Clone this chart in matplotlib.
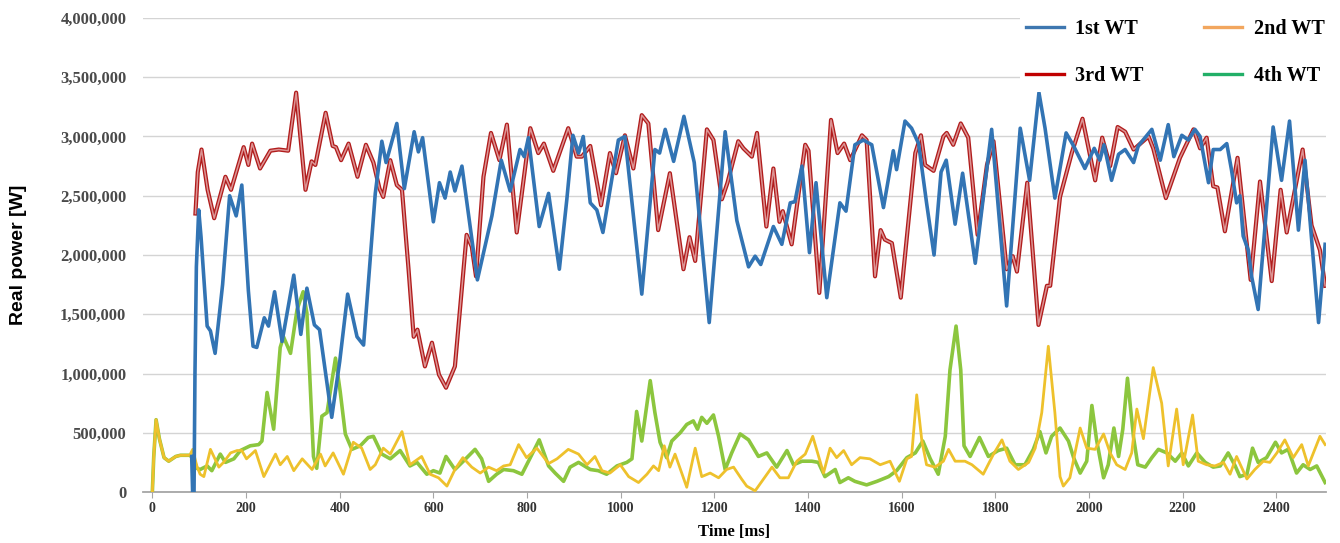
import numpy as np
import matplotlib
matplotlib.use("Agg")
import matplotlib.pyplot as plt
from matplotlib.lines import Line2D
from matplotlib.ticker import FuncFormatter

# values, time in ms and power in MW

# 1st WT
t1 = [84, 86, 89, 91, 94, 99, 104, 117, 124, 134, 150, 165, 179, 191, 205, 215, 223, 239, 248, 261,
      277, 302, 317, 330, 346, 357, 383, 400, 417, 437, 451, 476, 490, 499, 522, 538, 559, 568, 577, 600,
      613, 625, 636, 646, 661, 694, 725, 745, 764, 785, 794, 803, 826, 846, 869, 885, 898, 910, 920, 935,
      949, 962, 995, 1009, 1045, 1073, 1083, 1095, 1113, 1135, 1157, 1189, 1223, 1248, 1273, 1287, 1299,
      1326, 1344, 1362, 1372, 1387, 1403, 1417, 1440, 1468, 1481, 1500, 1518, 1536, 1561, 1582, 1589,
      1607, 1621, 1636, 1653, 1669, 1684, 1695, 1714, 1730, 1757, 1792, 1824, 1853, 1873, 1893, 1906,
      1927, 1951, 1967, 1991, 2011, 2023, 2032, 2048, 2063, 2077, 2095, 2105, 2134, 2152, 2169, 2181,
      2198, 2212, 2226, 2237, 2255, 2265, 2280, 2294, 2304, 2315, 2322, 2329, 2340, 2347, 2361, 2393,
      2411, 2428, 2447, 2461, 2490, 2504]
p1 = [0.30, 0.0, 0.0, 1.0, 1.9, 2.38, 2.15, 1.40, 1.36, 1.17, 1.75, 2.50, 2.33, 2.59, 1.70, 1.23, 1.22, 1.47, 1.40, 1.69,
      1.27, 1.83, 1.33, 1.72, 1.41, 1.37, 0.63, 1.10, 1.67, 1.31, 1.24, 2.52, 2.96, 2.78, 3.11, 2.56, 3.04, 2.87, 2.99, 2.28,
      2.61, 2.48, 2.70, 2.54, 2.75, 1.79, 2.33, 2.80, 2.54, 2.89, 2.83, 2.99, 2.24, 2.52, 1.88, 2.47, 3.01, 2.86, 3.00, 2.44,
      2.38, 2.19, 2.97, 3.00, 1.67, 2.89, 2.86, 3.06, 2.79, 3.17, 2.78, 1.43, 3.04, 2.29, 1.90, 1.99, 1.92,
      2.24, 2.09, 2.44, 2.45, 2.75, 2.02, 2.61, 1.64, 2.44, 2.37, 2.93, 2.97, 2.93, 2.40, 2.88, 2.72,
      3.13, 3.07, 2.94, 2.44, 2.00, 2.70, 2.80, 2.26, 2.69, 1.93, 3.06, 1.57, 3.07, 2.63, 3.37, 3.07,
      2.48, 3.03, 2.92, 2.73, 2.90, 2.80, 2.93, 2.63, 2.85, 2.89, 2.78, 2.92, 3.06, 2.80, 3.10, 2.83,
      3.01, 2.97, 3.06, 3.00, 2.61, 2.89, 2.89, 2.94, 2.72, 2.44, 2.50, 2.16, 2.04, 1.82, 1.54, 3.08,
      2.63, 3.13, 2.21, 2.80, 1.43, 2.09]

# 2nd WT
t2 = [0, 3, 8, 15, 25, 35, 50, 60, 80, 86, 95, 102, 110, 124, 142, 152, 167, 181, 191, 201, 220, 238,
      263, 273, 288, 302, 320, 341, 359, 369, 386, 408, 429, 447, 465, 476, 493, 508, 533, 550, 575, 593,
      611, 629, 646, 663, 682, 700, 718, 735, 750, 764, 782, 799, 821, 846, 864, 888, 910, 928, 945, 960,
      977, 999, 1017, 1038, 1056, 1070, 1081, 1093, 1105, 1116, 1141, 1159, 1173, 1191, 1209, 1226, 1241,
      1258, 1269, 1287, 1305, 1323, 1340, 1358, 1376, 1394, 1410, 1433, 1447, 1461, 1476, 1493, 1511,
      1532, 1554, 1575, 1595, 1611, 1621, 1632, 1643, 1653, 1671, 1689, 1700, 1714, 1735, 1750, 1774,
      1796, 1814, 1831, 1849, 1871, 1885, 1899, 1913, 1927, 1938, 1945, 1959, 1981, 1995, 2013, 2031,
      2045, 2059, 2077, 2091, 2102, 2116, 2137, 2155, 2169, 2187, 2201, 2221, 2233, 2251, 2269, 2287,
      2301, 2315, 2337, 2354, 2372, 2386, 2401, 2418, 2436, 2454, 2468, 2493, 2504]
p2 = [0.0, 0.30, 0.61, 0.45, 0.29, 0.26, 0.30, 0.31, 0.31, 0.36, 0.22, 0.15, 0.13, 0.36, 0.21, 0.25, 0.33, 0.35, 0.35, 0.28, 0.35, 0.13,
      0.32, 0.23, 0.30, 0.18, 0.28, 0.19, 0.32, 0.22, 0.33, 0.15, 0.42, 0.37, 0.19, 0.23, 0.37, 0.32, 0.51, 0.23, 0.30, 0.15,
      0.12, 0.05, 0.19, 0.29, 0.21, 0.16, 0.21, 0.18, 0.22, 0.23, 0.40, 0.29, 0.37, 0.24, 0.28, 0.36, 0.32, 0.23, 0.30, 0.18,
      0.16, 0.23, 0.13, 0.08, 0.15, 0.22, 0.18, 0.39, 0.21, 0.32, 0.04, 0.37, 0.13, 0.16, 0.12, 0.19, 0.21,
      0.11, 0.05, 0.01, 0.11, 0.21, 0.12, 0.12, 0.26, 0.32, 0.47, 0.16, 0.37, 0.29, 0.35, 0.23, 0.29,
      0.28, 0.23, 0.26, 0.09, 0.28, 0.30, 0.82, 0.43, 0.23, 0.21, 0.26, 0.36, 0.26, 0.26, 0.23, 0.15,
      0.32, 0.44, 0.26, 0.19, 0.25, 0.37, 0.67, 1.23, 0.67, 0.13, 0.05, 0.12, 0.54, 0.37, 0.36, 0.49,
      0.33, 0.23, 0.19, 0.33, 0.70, 0.45, 1.05, 0.75, 0.22, 0.70, 0.23, 0.65, 0.26, 0.23, 0.22, 0.25,
      0.15, 0.30, 0.11, 0.19, 0.26, 0.25, 0.33, 0.44, 0.29, 0.40, 0.22, 0.47, 0.40]

# 3rd WT
t3 = [92, 97, 105, 118, 132, 156, 168, 195, 205, 213, 230, 252, 270, 290, 307, 327, 340, 348, 370, 385,
      392, 403, 419, 438, 456, 472, 485, 493, 508, 522, 533, 547, 558, 566, 582, 597, 612, 627, 646, 671,
      682, 691, 707, 723, 741, 757, 778, 807, 824, 836, 856, 888, 906, 917, 935, 958, 977, 990, 1009,
      1027, 1045, 1059, 1080, 1105, 1134, 1147, 1159, 1184, 1198, 1216, 1228, 1251, 1262, 1280, 1291,
      1311, 1326, 1339, 1346, 1365, 1394, 1401, 1424, 1449, 1463, 1477, 1490, 1515, 1525, 1543, 1555,
      1564, 1579, 1598, 1629, 1641, 1650, 1668, 1689, 1696, 1710, 1726, 1742, 1762, 1782, 1796, 1824,
      1837, 1846, 1868, 1892, 1910, 1917, 1938, 1963, 1986, 2013, 2028, 2045, 2061, 2077, 2095, 2127,
      2137, 2164, 2194, 2223, 2237, 2251, 2265, 2274, 2290, 2317, 2345, 2365, 2390, 2409, 2422, 2456,
      2475, 2493, 2504]
p3 = [2.35, 2.70, 2.89, 2.55, 2.31, 2.66, 2.55, 2.91, 2.76, 2.94, 2.73, 2.88, 2.89, 2.88, 3.37, 2.55, 2.79, 2.76, 3.20, 2.92,
      2.91, 2.80, 2.94, 2.66, 2.93, 2.78, 2.56, 2.49, 2.80, 2.59, 2.55, 1.88, 1.31, 1.37, 1.06, 1.26, 0.99, 0.88, 1.06, 2.17,
      2.07, 1.82, 2.66, 3.03, 2.80, 3.10, 2.19, 3.07, 2.86, 2.94, 2.71, 3.07, 2.83, 2.83, 2.92, 2.42, 2.86, 2.69, 3.01,
      2.73, 3.18, 3.11, 2.21, 2.69, 1.88, 2.15, 1.95, 3.06, 2.97, 2.47, 2.61, 2.96, 2.90, 2.83, 3.03,
      2.24, 2.73, 2.28, 2.37, 2.09, 2.93, 2.88, 1.68, 3.14, 2.86, 2.94, 2.80, 3.01, 2.97, 1.82, 2.21,
      2.13, 2.10, 1.64, 2.86, 3.01, 2.76, 2.71, 3.00, 3.03, 2.93, 3.11, 2.99, 2.17, 2.76, 2.96, 1.88,
      1.99, 1.86, 2.61, 1.41, 1.74, 1.74, 2.49, 2.86, 3.15, 2.63, 2.99, 2.75, 3.08, 3.04, 2.89, 3.00,
      2.90, 2.48, 2.82, 3.06, 2.90, 2.99, 2.58, 2.57, 2.20, 2.82, 1.79, 2.62, 1.78, 2.55, 2.19, 2.89,
      2.25, 2.04, 1.74]

# 4th WT
t4 = [0, 3, 8, 15, 25, 35, 50, 60, 80, 88, 95, 102, 117, 127, 145, 156, 174, 188, 209, 227, 234, 245,
      259, 273, 280, 295, 309, 322, 330, 344, 351, 362, 373, 391, 401, 412, 426, 444, 461, 472, 490, 508,
      529, 550, 565, 586, 600, 614, 627, 646, 664, 689, 703, 718, 735, 750, 771, 789, 807, 826, 846, 860,
      878, 892, 910, 935, 952, 970, 992, 1013, 1024, 1034, 1045, 1063, 1073, 1084, 1098, 1109, 1127,
      1141, 1155, 1164, 1173, 1184, 1198, 1209, 1223, 1237, 1255, 1273, 1294, 1312, 1333, 1355, 1369,
      1387, 1408, 1422, 1436, 1458, 1468, 1486, 1500, 1525, 1547, 1572, 1589, 1611, 1629, 1645, 1661,
      1678, 1693, 1703, 1716, 1726, 1733, 1746, 1766, 1785, 1806, 1824, 1842, 1863, 1881, 1895, 1908,
      1920, 1938, 1956, 1967, 1981, 1995, 2006, 2016, 2031, 2041, 2053, 2063, 2072, 2082, 2095, 2104,
      2120, 2134, 2148, 2166, 2184, 2198, 2212, 2230, 2248, 2265, 2280, 2297, 2312, 2322, 2337, 2349,
      2361, 2379, 2398, 2411, 2425, 2443, 2457, 2472, 2486, 2504]
p4 = [0.0, 0.30, 0.61, 0.45, 0.29, 0.26, 0.30, 0.31, 0.31, 0.28, 0.20, 0.19, 0.22, 0.18, 0.32, 0.25, 0.28, 0.35, 0.39, 0.40, 0.43, 0.84,
      0.53, 1.22, 1.31, 1.17, 1.54, 1.69, 1.51, 0.30, 0.20, 0.64, 0.67, 1.13, 0.85, 0.49, 0.36, 0.39, 0.46, 0.47, 0.32, 0.28,
      0.35, 0.22, 0.25, 0.15, 0.18, 0.16, 0.30, 0.19, 0.26, 0.36, 0.28, 0.09, 0.15, 0.19, 0.18, 0.15, 0.29, 0.44, 0.22, 0.16,
      0.09, 0.21, 0.25, 0.19, 0.18, 0.15, 0.22, 0.25, 0.28, 0.68, 0.43, 0.94, 0.67, 0.42, 0.29, 0.43, 0.50,
      0.57, 0.60, 0.53, 0.63, 0.58, 0.65, 0.47, 0.19, 0.33, 0.49, 0.44, 0.30, 0.33, 0.21, 0.35, 0.23,
      0.26, 0.26, 0.25, 0.13, 0.19, 0.08, 0.12, 0.09, 0.06, 0.09, 0.13, 0.18, 0.29, 0.33, 0.43, 0.28,
      0.15, 0.47, 1.03, 1.40, 1.03, 0.39, 0.30, 0.46, 0.30, 0.35, 0.37, 0.23, 0.23, 0.36, 0.51, 0.33,
      0.47, 0.54, 0.43, 0.29, 0.16, 0.26, 0.73, 0.44, 0.12, 0.23, 0.54, 0.30, 0.53, 0.96, 0.46, 0.23,
      0.21, 0.29, 0.36, 0.33, 0.26, 0.33, 0.22, 0.33, 0.25, 0.21, 0.22, 0.33, 0.22, 0.13, 0.15, 0.37,
      0.25, 0.29, 0.42, 0.33, 0.36, 0.16, 0.23, 0.19, 0.22, 0.08]

labels = ["1st WT", "2nd WT", "3rd WT", "4th WT"]
xticks = list(range(0, 2401, 200))
yticks = list(range(0, 4000001, 500000))

# colours: the legend keys differ from the drawn curves in the original
blue = "#3274B4"
yellow = "#EEC12C"
green = "#8CC63E"
red_dark = "#B11C1C"
red_light = "#DC9494"
legend_colors = ["#3E77B0", "#F2A65E", "#C00000", "#22AF67"]

serif = "Liberation Serif"

fig = plt.figure(figsize=(13.4, 5.43), dpi=100)
ax = fig.add_axes([0.1067, 0.0939, 0.8829, 0.873])

ax.plot(t4, np.array(p4) * 1e6, color=green, lw=2.6, solid_joinstyle="round", zorder=2)
ax.plot(t2, np.array(p2) * 1e6, color=yellow, lw=2.0, solid_joinstyle="round", zorder=3)
ax.plot(t3, np.array(p3) * 1e6, color=red_dark, lw=3.0, solid_joinstyle="round", zorder=4)
ax.plot(t3, np.array(p3) * 1e6, color=red_light, lw=1.1, solid_joinstyle="round", zorder=4)
ax.plot(t1, np.array(p1) * 1e6, color=blue, lw=2.6, solid_joinstyle="round", zorder=5)

ax.set_xlim(-20, 2506)
ax.set_ylim(0, 4000000)
ax.set_xticks(xticks)
ax.set_yticks(yticks)
ax.yaxis.set_major_formatter(FuncFormatter(lambda v, pos: "{:,.0f}".format(v)))

ax.grid(axis="y", color="#D4D4D4", lw=1.0)
ax.set_axisbelow(True)
for s in ["top", "right", "left"]:
    ax.spines[s].set_visible(False)
ax.spines["bottom"].set_color("#A6A6A6")
ax.spines["bottom"].set_linewidth(1.3)
ax.spines["bottom"].set_zorder(1)

ax.tick_params(axis="y", length=0, pad=12)
ax.tick_params(axis="x", length=4, color="#A6A6A6", direction="out", pad=3)
for lab in ax.get_yticklabels():
    lab.set_fontfamily(serif)
    lab.set_fontweight("bold")
    lab.set_fontsize(12)
    lab.set_color("#4A4A4A")
for lab in ax.get_xticklabels():
    lab.set_fontfamily(serif)
    lab.set_fontweight("bold")
    lab.set_fontsize(10)
    lab.set_color("#333333")

ax.set_xlabel("Time [ms]", fontfamily=serif, fontweight="bold", fontsize=12, labelpad=7)
ax.set_ylabel("Real power [W]", fontfamily="Liberation Sans", fontweight="bold", fontsize=14, labelpad=24)

# legend is filled column by column, so order it to read row-wise
order = [0, 2, 1, 3]
handles = [Line2D([0], [0], color=legend_colors[i], lw=2.4) for i in order]
leg = ax.legend(handles, [labels[i] for i in order], ncol=2, loc="upper left",
                bbox_to_anchor=(1020 / 1340, 1 - 13 / 543), bbox_transform=fig.transFigure,
                prop={"family": serif, "weight": "bold", "size": 14.5},
                frameon=True, fancybox=False, framealpha=1, facecolor="white", edgecolor="none",
                handlelength=1.9, handletextpad=0.55, columnspacing=3.0, labelspacing=1.35,
                borderpad=0.3, borderaxespad=0)
leg.set_zorder(10)

fig.savefig("out.png", dpi=100)
